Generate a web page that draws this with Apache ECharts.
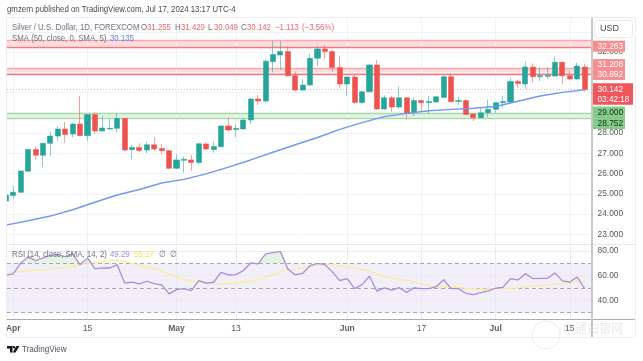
<!DOCTYPE html>
<html><head><meta charset="utf-8"><style>html,body{margin:0;background:#fff}#c{width:643px;height:361px}</style>
<script src="https://cdn.jsdelivr.net/npm/echarts@6/dist/echarts.min.js"></script></head><body><div id="c"></div>
<script>
const opens =[24.64,24.92,25.07,26.11,27.19,26.90,27.49,27.85,28.20,27.95,28.44,27.87,28.91,28.10,28.20,28.23,28.72,27.18,27.29,27.16,27.42,27.24,27.13,26.26,26.65,26.67,26.54,27.46,27.19,27.32,28.35,28.17,28.20,28.64,29.68,29.58,31.52,31.85,32.02,30.83,30.12,30.37,31.69,32.15,32.02,31.23,30.42,30.77,29.51,30.04,31.36,29.19,29.74,29.28,29.74,29.00,29.60,29.50,29.53,29.76,30.78,29.56,29.60,28.94,28.76,29.00,29.17,29.50,29.53,30.55,30.42,31.26,30.78,30.80,30.81,31.49,30.83,30.67,31.255];
const closes=[24.94,25.07,26.12,27.19,26.90,27.49,27.85,28.20,27.93,28.44,27.87,28.91,28.10,28.25,28.23,28.72,27.16,27.29,27.14,27.42,27.21,27.13,26.26,26.67,26.70,26.54,27.47,27.21,27.34,28.35,28.15,28.23,28.64,29.68,29.58,31.55,31.88,32.02,30.83,30.12,30.37,31.69,32.15,32.02,31.23,30.42,30.77,29.51,30.04,31.36,29.19,29.74,29.28,29.74,28.97,29.60,29.50,29.56,29.79,30.78,29.55,29.60,28.92,28.76,29.00,29.17,29.50,29.56,30.55,30.44,31.26,30.78,30.83,30.85,31.49,30.83,30.67,31.31,30.142];
const lows  =[24.60,24.76,25.05,26.09,26.70,26.31,26.88,27.62,27.52,27.79,27.85,27.62,27.97,28.08,28.15,28.03,27.11,26.70,27.05,27.00,27.13,26.95,26.22,26.22,26.04,26.14,26.47,27.16,27.03,27.30,28.07,27.79,28.18,28.44,29.38,29.51,30.99,31.11,30.80,30.07,30.07,30.34,31.31,31.65,31.03,30.24,29.84,29.42,29.43,29.99,29.14,29.14,29.05,29.19,28.67,28.84,29.02,28.97,29.50,29.73,29.50,29.38,28.87,28.59,28.74,28.77,29.00,29.25,29.50,30.24,30.17,30.50,30.57,30.67,30.81,30.42,30.60,30.62,30.049];
const highs =[24.97,25.38,26.17,27.21,27.33,27.52,28.08,28.35,28.54,28.51,29.83,28.94,29.02,28.84,28.69,28.97,28.74,27.41,27.49,27.57,27.79,27.46,27.16,26.96,26.83,26.91,27.51,27.54,27.57,28.37,28.76,28.43,28.72,29.74,29.88,31.65,32.56,32.54,32.26,31.03,30.67,31.90,32.30,32.35,32.10,31.82,30.78,30.91,30.09,31.41,31.60,29.86,29.83,30.29,29.76,29.74,29.63,29.83,29.84,30.85,30.94,29.79,29.68,28.97,29.27,29.66,29.51,29.83,30.73,30.62,31.52,31.44,31.24,31.23,31.79,31.50,31.11,31.47,31.429];
const smaBars=[0,3,6,9,12,15,18,21,24,27,30,33,36,39,42,45,48,51,54,57,60,63,66,69,72,75,78];
const smaValues=[23.45,23.67,23.90,24.21,24.58,24.94,25.21,25.53,25.71,25.98,26.32,26.67,27.05,27.42,27.78,28.18,28.51,28.81,28.97,29.10,29.17,29.22,29.31,29.57,29.83,30.01,30.135];
const rsi=[60.3,61.4,70.3,75.4,72.2,74.4,76.5,77.1,75.4,77.6,68.9,74.4,65.4,66.2,66.2,68.9,54,54.6,53.2,55.4,53.5,52.4,45.1,48.6,49.4,47.8,55.9,53.8,54.6,62.7,60.5,60.8,64.1,70.3,69.5,77.6,78.7,79.5,65.4,60.5,61.9,68.1,70,68.9,63,55.9,57.6,49.4,52.7,59.5,47.3,50,48.1,50.2,46.4,50,49.4,49.4,51,56.7,49.4,49.4,45.6,44.5,46.2,47.5,49.7,50.5,57.6,56.5,61.6,57.6,57.8,57.8,62.1,55.7,54.8,58.9,49.29];
const rsiMa=[61.4,62.7,63.5,63.8,64.2,64.6,65.4,66.2,66.5,67.6,68.9,69.7,70.6,71.4,71.9,72.2,71.6,70,68.4,66.8,65.4,63.5,61.4,58.9,57,55.4,54.6,54,53.8,53.2,53.5,53.8,54.6,55.4,56.5,58.6,60.8,63,64.6,65.1,66,67.3,68.7,68.9,68.7,68.1,67.3,66,64.9,63.5,61.4,59.2,57.8,57,55.9,54.6,53.2,52.1,51,51,50.8,50.5,49.7,49.1,48.9,48.9,49.4,49.4,49.7,50,50.8,51.6,52.1,52.4,52.9,53.5,54,55.4,55.17];
const tickBars=[1,11,23,31,46,56,66,76];
const tickLabels=['Apr','15','May','13','Jun','17','Jul','15'];
const priceTicks=[23,24,25,26,27,28,29,30,31,32,33];
const priceLabels=[23,24,25,26,27,28,32];
const rsiTicks=[40,60,80];
const redZones=[[32.263,32.57],[30.892,31.208]];
const greenZone=[28.752,29.0];
const lastPrice=30.142;
const tagPrices=[32.263,31.208,30.892,29.0,28.752];

const FONT='"Liberation Sans", Arial, sans-serif';
const XMIN=0.151,XMAX=78.99,LEFT=7,W=585;
const GREEN='#26a69a',RED='#ef5350';
const candle=opens.map((o,i)=>[i,o,closes[i],lows[i],highs[i]]);
const pair=(a,b)=>a.map((v,i)=>[v,b[i]]);
const idx=rsi.map((_,i)=>i);
const vLines=tickBars.map(b=>({xAxis:b}));
const tagSpec=[
 {t:'32.263',bg:'#f98e90',fg:'#fff',w:32,h:11,dy:-0.5},
 {t:'31.208',bg:'#f98e90',fg:'#fff',w:32,h:11,dy:-3.5},
 {t:'30.892',bg:'#f98e90',fg:'#fff',w:32,h:11,dy:0},
 {t:'29.000',bg:'#86cb89',fg:'#16301a',w:32,h:11.5,dy:-0.5},
 {t:'28.752',bg:'#86cb89',fg:'#16301a',w:32,h:11.5,dy:5.5}
];
function tagItem(params,api){
  const s=tagSpec[params.dataIndex];
  const y=api.coord([XMAX,api.value(1)])[1]+s.dy;
  const x=593;
  return {type:'group',children:[
    {type:'rect',shape:{x:x,y:y-s.h/2,width:s.w,height:s.h},style:{fill:s.bg}},
    {type:'text',x:x+4.5,y:y,style:{text:s.t,fill:s.fg,font:'8.4px '+FONT,verticalAlign:'middle',align:'left'}}
  ]};
}
const gridLine={color:'#f2f3f8',width:1,type:'solid'};
const txt=(text,x,y,fill,sx)=>({type:'text',z:31,x:x,y:y,scaleX:sx||0.87,style:{text:text,fill:fill,font:'9px '+FONT,verticalAlign:'middle'}});
const GREY='#6f7280';
const option={
 animation:false,backgroundColor:'#fff',
 grid:[{left:LEFT,top:18,width:W,height:226,show:false},{left:LEFT,top:244,width:W,height:75,show:false}],
 xAxis:[
  {type:'value',gridIndex:0,min:XMIN,max:XMAX,show:false,splitLine:{show:false}},
  {type:'value',gridIndex:1,min:XMIN,max:XMAX,splitLine:{show:false},
   axisLine:{show:true,onZero:false,lineStyle:{color:'#a9abb2',width:1}},axisTick:{show:false},
   axisLabel:{show:true,customValues:tickBars,margin:5,hideOverlap:false,showMinLabel:true,showMaxLabel:true,
     color:'#55585f',fontFamily:FONT,fontSize:8.5,
     formatter:v=>{const l=tickLabels[tickBars.indexOf(v)];return l&&isNaN(+l)?'{m|'+l+'}':(l||'');},
     rich:{m:{fontWeight:700,fontFamily:FONT,fontSize:8.5,color:'#5f626a'}}}}
 ],
 yAxis:[
  {type:'value',gridIndex:0,min:22.52,max:33.68,position:'right',splitLine:{show:false},axisLine:{show:false},axisTick:{show:false},
   axisLabel:{customValues:priceLabels,margin:5.5,color:'#55585f',fontFamily:FONT,fontSize:8.4,formatter:v=>v.toFixed(3)}},
  {type:'value',gridIndex:1,min:24.7,max:85.7,position:'right',splitLine:{show:false},axisLine:{show:false},axisTick:{show:false},
   axisLabel:{customValues:rsiTicks,margin:5.5,color:'#55585f',fontFamily:FONT,fontSize:8.4,formatter:v=>v.toFixed(2)}}
 ],
 series:[
  {type:'line',xAxisIndex:0,yAxisIndex:0,data:[],silent:true,z:1,
   markArea:{silent:true,z:1,itemStyle:{color:'#fcdcdc',opacity:1},data:redZones.map(b=>[{yAxis:b[0]},{yAxis:b[1]}])},
   markLine:{silent:true,z:1,symbol:'none',label:{show:false},animation:false,lineStyle:gridLine,
     data:priceTicks.map(p=>({yAxis:p})).concat(vLines)}},
  {type:'line',xAxisIndex:0,yAxisIndex:0,data:[],silent:true,z:1,
   markArea:{silent:true,z:1,itemStyle:{color:'#e3f3e4',opacity:1},data:[[{yAxis:greenZone[0]},{yAxis:greenZone[1]}]]},
   markLine:{silent:true,z:1,symbol:'none',label:{show:false},animation:false,
     data:[
      {yAxis:redZones[0][0],lineStyle:{color:'#f27a7e',width:1.4,type:'solid'}},
      {yAxis:redZones[0][1],lineStyle:{color:'#f9aaab',width:1.4,type:'solid'}},
      {yAxis:redZones[1][0],lineStyle:{color:'#f27a7e',width:1.4,type:'solid'}},
      {yAxis:redZones[1][1],lineStyle:{color:'#f9aaab',width:1.4,type:'solid'}},
      {yAxis:greenZone[0],lineStyle:{color:'#a9dbab',width:1.3,type:'solid'}},
      {yAxis:greenZone[1],lineStyle:{color:'#a9dbab',width:1.3,type:'solid'}},
      {yAxis:lastPrice,lineStyle:{color:'#f6b4b5',width:1,type:[1,2]}}
     ]}},
  {type:'candlestick',xAxisIndex:0,yAxisIndex:0,data:candle,encode:{x:0,y:[1,2,3,4]},barWidth:5.6,z:3,
   itemStyle:{color:GREEN,color0:RED,borderColor:'rgba(38,166,154,.55)',borderColor0:'rgba(239,83,80,.55)',borderWidth:1}},
  {type:'line',xAxisIndex:0,yAxisIndex:0,data:pair(smaBars,smaValues),showSymbol:false,z:4,silent:true,
   lineStyle:{color:'#7397f5',width:1.4}},
  {type:'custom',xAxisIndex:0,yAxisIndex:0,data:tagPrices.map(p=>[XMAX,p]),encode:{x:0,y:1},renderItem:tagItem,z:20,silent:true,clip:false},
  {type:'custom',xAxisIndex:0,yAxisIndex:0,data:[[XMAX,lastPrice]],encode:{x:0,y:1},z:21,silent:true,clip:false,
   renderItem:(p,api)=>{const y=api.coord([XMAX,api.value(1)])[1];return {type:'group',children:[
     {type:'rect',shape:{x:593,y:y-6.5,width:40,height:21.5},style:{fill:'#f0565a'}},
     {type:'text',x:597.5,y:y,style:{text:lastPrice.toFixed(3),fill:'#fff',font:'8.4px '+FONT,verticalAlign:'middle'}},
     {type:'text',x:597.5,y:y+10,style:{text:'03:42:18',fill:'#fff',font:'8.2px '+FONT,verticalAlign:'middle'}}
   ]};}},
  {type:'line',xAxisIndex:1,yAxisIndex:1,data:[],silent:true,z:1,
   markArea:{silent:true,z:1,itemStyle:{color:'#f3effa',opacity:1},data:[[{yAxis:30},{yAxis:70}]]},
   markLine:{silent:true,z:1,symbol:'none',label:{show:false},animation:false,lineStyle:{color:'#ece9f3',width:1,type:'solid'},
     data:rsiTicks.map(v=>({yAxis:v})).concat(vLines)}},
  {type:'line',xAxisIndex:1,yAxisIndex:1,data:[],silent:true,z:2,
   markLine:{silent:true,z:2,symbol:'none',label:{show:false},animation:false,lineStyle:{color:'#a9a9ad',width:1,type:[4,3]},
     data:[{yAxis:70},{yAxis:50},{yAxis:30}]}},
  {type:'line',xAxisIndex:1,yAxisIndex:1,data:pair(idx,rsi.map(v=>Math.max(v,70))),showSymbol:false,silent:true,z:3,
   lineStyle:{width:0},areaStyle:{origin:70,color:'rgba(76,175,80,.22)'}},
  {type:'line',xAxisIndex:1,yAxisIndex:1,data:pair(idx,rsiMa),showSymbol:false,silent:true,z:4,lineStyle:{color:'#fbec9a',width:1.3}},
  {type:'line',xAxisIndex:1,yAxisIndex:1,data:pair(idx,rsi),showSymbol:false,silent:true,z:5,lineStyle:{color:'#a78fdc',width:1.3}}
 ],
 graphic:[
  {type:'rect',z:29,shape:{x:0,y:17,width:6.5,height:230},style:{fill:'#fff'}},
  {type:'rect',z:30,shape:{x:6.5,y:17.5,width:629,height:320},style:{fill:'none',stroke:'#eceef2',lineWidth:1}},
  {type:'line',z:1,shape:{x1:7,y1:244.5,x2:636,y2:244.5},style:{stroke:'#e6e7ec',lineWidth:1}},
  {type:'line',z:1,shape:{x1:592,y1:319.5,x2:636,y2:319.5},style:{stroke:'#a9abb2',lineWidth:1}},
  {type:'line',z:30,shape:{x1:592,y1:18,x2:592,y2:337},style:{stroke:'#c6c7cb',lineWidth:2}},
  {type:'rect',z:30,shape:{x:594.5,y:20.5,width:38,height:17,r:3},style:{fill:'#fff',stroke:'#e9eaee',lineWidth:1}},
  txt('USD',600,29,'#4a4d55',1),
  txt('gmzern published on TradingView.com, Jul 17, 2024 13:17 UTC-4',7,10,'#4a4a4a'),
  txt('Silver / U.S. Dollar, 1D, FOREXCOM',12,28,GREY),
  ...[['O',141],['H',175],['L',208],['C',241]].map(a=>txt(a[0],a[1],28,GREY)),
  ...[['31.255',147],['31.429',181],['30.049',214],['30.142',247],['−1.113',275],['(−3.56%)',302]].map(a=>txt(a[0],a[1],28,'#f2686a')),
  txt('SMA (50, close, 0, SMA, 5)',12,39,GREY),
  txt('30.135',110,39,'#5b84f5'),
  txt('RSI (14, close, SMA, 14, 2)',12,255,GREY),
  txt('49.29',110,255,'#a78fdc'),
  txt('55.17',134,255,'#f5e25a'),
  txt('∅  ∅',159,255,GREY),
  {type:'polygon',z:31,shape:{points:[[7,346],[12.5,346],[12.5,352.5],[10,352.5],[10,348.6],[7,348.6]]},style:{fill:'#131722'}},
  {type:'circle',z:31,shape:{cx:14,cy:347.3,r:1.3},style:{fill:'#131722'}},
  {type:'polygon',z:31,shape:{points:[[16.5,346],[19.5,346],[15.5,352.5],[12.7,352.5]]},style:{fill:'#131722'}},
  txt('TradingView',22,349.5,'#50535e',0.9),
  {type:'circle',z:32,shape:{cx:546,cy:335,r:14},style:{fill:'none',stroke:'rgba(190,195,205,.3)',lineWidth:1}},
  {type:'text',z:32,x:563,y:328,style:{text:'华通白银网',fill:'rgba(190,195,205,.35)',font:'12px "Noto Sans CJK SC"',verticalAlign:'middle'}}
 ]
};
echarts.init(document.getElementById('c'),null,{renderer:'canvas'}).setOption(option);
</script></body></html>
